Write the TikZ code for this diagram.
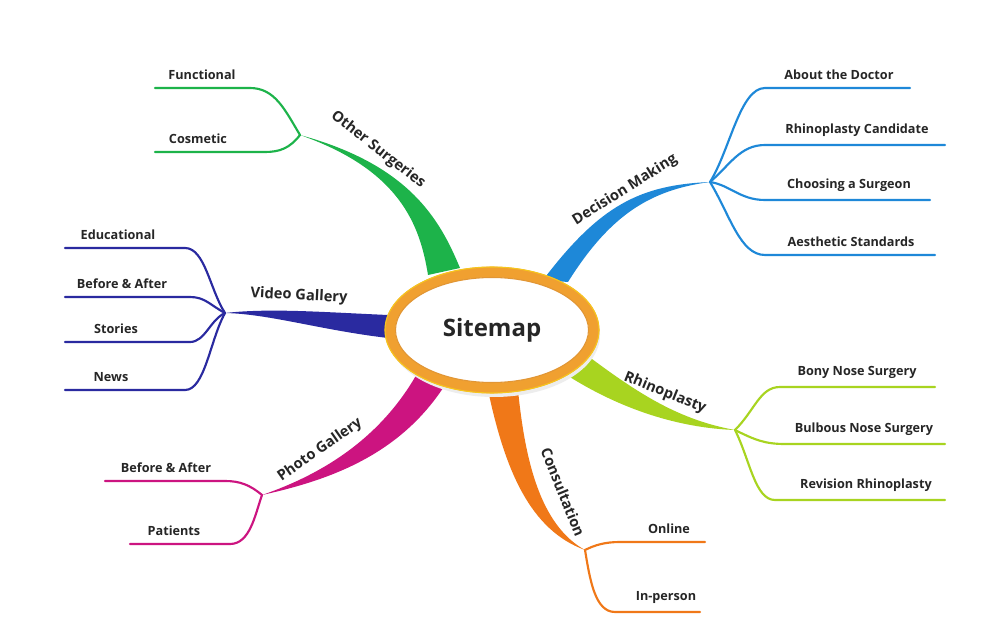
\documentclass[tikz,border=0pt]{standalone}
\usepackage{fontspec}
\setmainfont{Open Sans}
\begin{document}
\begin{tikzpicture}[x=0.75pt,y=-0.75pt,
  leaf/.style={font=\bfseries\fontsize{9.5}{11}\selectfont,text=black!85,anchor=south,inner sep=0pt,yshift=6pt},
  blab/.style={font=\bfseries\fontsize{11}{13}\selectfont,text=black!85,inner sep=1pt},
  ln/.style={line width=1.6pt,line cap=round}]
\definecolor{cgreen}{HTML}{1DB34A}\definecolor{cblue}{HTML}{1E88D8}\definecolor{cviolet}{HTML}{2A2AA0}
\definecolor{cmag}{HTML}{CC1480}\definecolor{corange}{HTML}{F07818}\definecolor{clime}{HTML}{A8D420}
\definecolor{ring}{HTML}{F0A030}
\useasboundingbox (0,0) rectangle (1000,627);
\fill[white] (0,0) rectangle (1000,627);
% trunks
\fill[cgreen] (428,275) .. controls (420,225) and (400,170) .. (300,135) .. controls (410,165) and (440,220) .. (460,268) -- cycle;
\fill[cblue] (543,280) .. controls (600,205) and (640,185) .. (710,182) .. controls (650,190) and (610,215) .. (568,282) -- cycle;
\fill[cviolet] (388,315) .. controls (320,312) and (270,308) .. (225,313) .. controls (270,314) and (320,330) .. (388,338) -- cycle;
\fill[cmag] (418,372) .. controls (380,440) and (320,475) .. (262,495) .. controls (330,480) and (400,455) .. (445,385) -- cycle;
\fill[corange] (488,390) .. controls (505,470) and (530,530) .. (585,550) .. controls (540,525) and (525,460) .. (518,390) -- cycle;
\fill[clime] (562,372) .. controls (620,410) and (680,428) .. (735,430) .. controls (680,420) and (640,395) .. (588,356) -- cycle;
% leaves green
\coordinate (hg) at (300,135);
\draw[ln,cgreen] (hg) .. controls (285,110) and (275,88) .. (250,88) -- (155,88);
\draw[ln,cgreen] (hg) .. controls (290,148) and (280,152) .. (265,152) -- (155,152);
\node[leaf] (l1) at (202,88) {Functional};
\node[leaf] (l2) at (198,152) {Cosmetic};
% blue
\coordinate (hb) at (710,182);
\draw[ln,cblue] (hb) .. controls (730,150) and (740,88) .. (765,88) -- (910,88);
\draw[ln,cblue] (hb) .. controls (730,165) and (740,145) .. (765,145) -- (945,145);
\draw[ln,cblue] (hb) .. controls (730,185) and (740,200) .. (765,200) -- (930,200);
\draw[ln,cblue] (hb) .. controls (730,215) and (740,255) .. (765,255) -- (935,255);
\node[leaf] at (839,88) {About the Doctor};
\node[leaf] at (857,145) {Rhinoplasty Candidate};
\node[leaf] at (849,200) {Choosing a Surgeon};
\node[leaf] at (851,255) {Aesthetic Standards};
% video
\coordinate (hv) at (225,313);
\draw[ln,cviolet] (hv) .. controls (210,290) and (205,248) .. (185,248) -- (65,248);
\draw[ln,cviolet] (hv) .. controls (210,305) and (205,297) .. (190,297) -- (65,297);
\draw[ln,cviolet] (hv) .. controls (210,320) and (205,342) .. (190,342) -- (65,342);
\draw[ln,cviolet] (hv) .. controls (210,340) and (205,390) .. (185,390) -- (65,390);
\node[leaf] at (118,248) {Educational};
\node[leaf] at (122,297) {Before \& After};
\node[leaf] at (116,342) {Stories};
\node[leaf] at (111,390) {News};
% magenta
\coordinate (hm) at (262,495);
\draw[ln,cmag] (hm) .. controls (250,485) and (240,481) .. (225,481) -- (105,481);
\draw[ln,cmag] (hm) .. controls (255,515) and (250,544) .. (230,544) -- (130,544);
\node[leaf] at (166,481) {Before \& After};
\node[leaf] at (174,544) {Patients};
% orange
\coordinate (ho) at (585,550);
\draw[ln,corange] (ho) .. controls (595,545) and (605,542) .. (620,542) -- (705,542);
\draw[ln,corange] (ho) .. controls (590,580) and (595,612) .. (615,612) -- (700,612);
\node[leaf] at (669,542) {Online};
\node[leaf] at (666,612) {In-person};
% lime
\coordinate (hl) at (735,430);
\draw[ln,clime] (hl) .. controls (755,410) and (760,387) .. (780,387) -- (935,387);
\draw[ln,clime] (hl) .. controls (755,440) and (765,444) .. (785,444) -- (945,444);
\draw[ln,clime] (hl) .. controls (750,460) and (755,500) .. (775,500) -- (945,500);
\node[leaf] at (857,387) {Bony Nose Surgery};
\node[leaf] at (864,444) {Bulbous Nose Surgery};
\node[leaf] at (866,500) {Revision Rhinoplasty};
% branch labels
\node[blab,rotate=-38] at (378,150) {Other Surgeries};
\node[blab,rotate=32] at (625,190) {Decision Making};
\node[blab,rotate=-3] at (299,296) {Video Gallery};
\node[blab,rotate=35] at (320,450) {Photo Gallery};
\node[blab,rotate=-68] at (563,492) {Consultation};
\node[blab,rotate=-22] at (665,393) {Rhinoplasty};
% center
\fill[black!7] (494,335) ellipse (106 and 62);
\draw[ring,line width=8pt,fill=white] (492,330) ellipse (102 and 58);
\draw[ring!70!brown,line width=0.8pt] (492,330) ellipse (96.5 and 52.5);
\draw[ring!60!yellow,line width=0.8pt] (492,330) ellipse (107 and 63);
\node[font=\bfseries\fontsize{18}{20}\selectfont,text=black!85] (c) at (492,330) {Sitemap};
\end{tikzpicture}
\end{document}
